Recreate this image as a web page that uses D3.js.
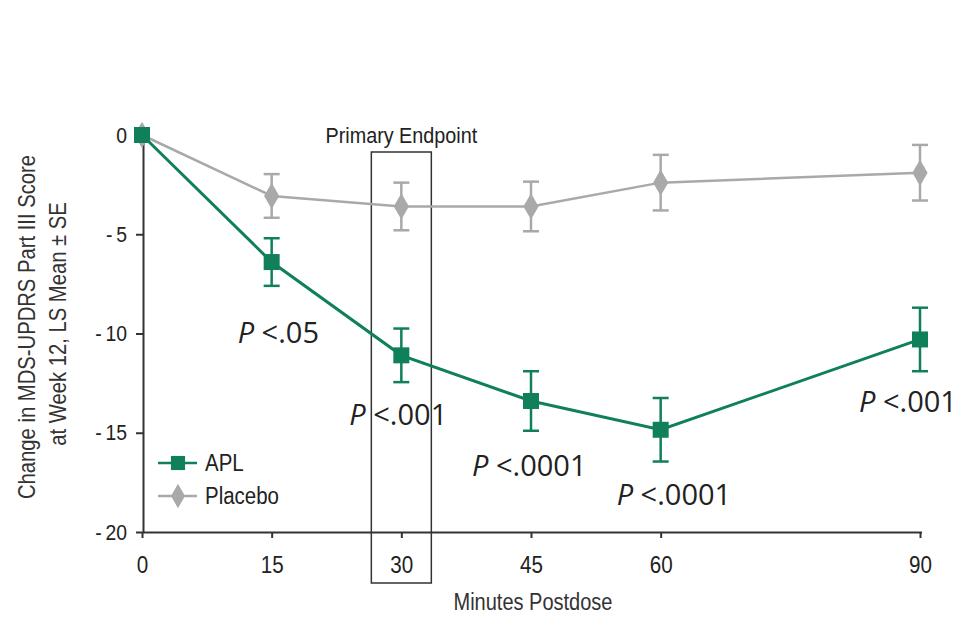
<!DOCTYPE html>
<html><head><meta charset="utf-8">
<script src="https://cdn.jsdelivr.net/npm/d3@7"></script>
<style>
body{margin:0;background:#fff;}
text{font-family:"Liberation Sans",Arial,sans-serif;}
.pv{font-family:"Open Sans","Liberation Sans",sans-serif;}
</style></head>
<body><svg id="c" width="956" height="617"></svg>
<script>
const minutes = [0, 15, 30, 45, 60, 90];
const aplMean = [0, -6.4, -11.1, -13.4, -14.85, -10.3];
const aplSE   = [0, 1.2, 1.35, 1.5, 1.6, 1.6];
const plaMean = [0, -3.07, -3.6, -3.6, -2.4, -1.9];
const plaSE   = [0, 1.1, 1.2, 1.25, 1.4, 1.4];
const xTicks = [0, 15, 30, 45, 60, 90];
const yTicks = [0, -5, -10, -15, -20];
const pLabels = [
  {m:15, v:-10.5, t:".05", dx:-34},
  {m:30, v:-14.6, t:".001", dx:-52},
  {m:45, v:-17.2, t:".0001", dx:-59},
  {m:60, v:-18.65, t:".0001", dx:-44},
  {m:90, v:-13.95, t:".001", dx:-61}
];

const svg = d3.select("#c");
const x = d3.scaleLinear().domain([0, 90]).range([142, 920]);
const y = d3.scaleLinear().domain([0, -20]).range([135, 532]);
const green = "#10805a", gray = "#a9a9a9";

function ctext(px, py, sx, size, str, anchor, fill, rot) {
  return svg.append("text")
    .attr("transform", `translate(${px},${py})${rot ? " rotate(" + rot + ")" : ""} scale(${sx},1)`)
    .attr("text-anchor", anchor).attr("font-size", size).attr("fill", fill || "#222").text(str);
}

// axes
const yAxis = svg.append("g").attr("transform", "translate(143,0)")
  .call(d3.axisLeft(y).tickValues(yTicks).tickSize(7).tickFormat(d => d === 0 ? "0" : "-\u2009" + Math.abs(d)));
const xAxis = svg.append("g").attr("transform", "translate(0,532)")
  .call(d3.axisBottom(x).tickValues(xTicks).tickSize(6));
[yAxis, xAxis].forEach(g => {
  g.select(".domain").attr("stroke", "#333").attr("stroke-width", 2);
  g.selectAll(".tick line").attr("stroke", "#333").attr("stroke-width", 2);
  g.selectAll("text").attr("font-family", "Liberation Sans, Arial, sans-serif").attr("fill", "#222");
});
xAxis.select(".domain").attr("d", "M143,0.5H922");
yAxis.select(".domain").attr("d", "M0.5,135V533");
xAxis.selectAll(".tick text").attr("font-size", 24).attr("y", 0).attr("dy", 0)
  .attr("transform", "translate(0,41) scale(0.86,1)");
yAxis.selectAll(".tick text").attr("font-size", 22).attr("x", 0)
  .attr("transform", "translate(-16,0) scale(0.88,1)");

// primary endpoint box
svg.append("rect").attr("x", x(30) - 30).attr("y", 152).attr("width", 60).attr("height", 431)
  .attr("fill", "none").attr("stroke", "#333").attr("stroke-width", 1.5);
ctext(x(30), 143, 0.9, 22, "Primary Endpoint", "middle");

// series
function series(mean, se, color, lw, shape) {
  const pts = minutes.map((m, i) => ({m, v: mean[i], s: se[i]}));
  svg.append("path").datum(pts).attr("fill", "none").attr("stroke", color).attr("stroke-width", lw)
    .attr("d", d3.line().x(d => x(d.m)).y(d => y(d.v)));
  const eb = svg.append("g").attr("stroke", color).attr("stroke-width", 2.5);
  pts.filter(d => d.s > 0).forEach(d => {
    eb.append("line").attr("x1", x(d.m)).attr("x2", x(d.m)).attr("y1", y(d.v + d.s)).attr("y2", y(d.v - d.s));
    eb.append("line").attr("x1", x(d.m) - 8).attr("x2", x(d.m) + 8).attr("y1", y(d.v + d.s)).attr("y2", y(d.v + d.s));
    eb.append("line").attr("x1", x(d.m) - 8).attr("x2", x(d.m) + 8).attr("y1", y(d.v - d.s)).attr("y2", y(d.v - d.s));
  });
  svg.append("g").selectAll("path").data(pts).join("path")
    .attr("transform", d => `translate(${x(d.m)},${y(d.v)})`)
    .attr("d", d3.symbol().type(shape === "square" ? d3.symbolSquare : d3.symbolDiamond).size(shape === "square" ? 256 : 200))
    .attr("fill", color);
}
series(plaMean, plaSE, gray, 2.5, "diamond");
series(aplMean, aplSE, green, 3, "square");

// p labels
const pl = svg.append("g").attr("class", "pv").attr("font-size", 29).attr("fill", "#222");
pLabels.forEach(p => {
  const t = pl.append("text").attr("class", "pv").attr("x", x(p.m) + p.dx).attr("y", y(p.v));
  t.append("tspan").attr("font-style", "italic").text("P");
  t.append("tspan").text(" <" + p.t);
});

// legend
const legend = [{n: "APL", c: green, s: "square"}, {n: "Placebo", c: gray, s: "diamond"}];
legend.forEach((l, i) => {
  const yy = 463 + i * 33;
  svg.append("line").attr("x1", 158).attr("x2", 197).attr("y1", yy).attr("y2", yy).attr("stroke", l.c).attr("stroke-width", 2.5);
  svg.append("path").attr("transform", `translate(178,${yy})`)
    .attr("d", d3.symbol().type(l.s === "square" ? d3.symbolSquare : d3.symbolDiamond).size(l.s === "square" ? 200 : 170)).attr("fill", l.c);
  ctext(205, yy + 8, 0.89, 23, l.n, "start");
});

// axis titles
ctext(533, 610, 0.87, 23, "Minutes Postdose", "middle", "#333");
ctext(35, 327, 0.88, 23, "Change in MDS-UPDRS Part III Score", "middle", "#333", -90);
ctext(66, 324, 0.88, 23, "at Week 12, LS Mean ± SE", "middle", "#333", -90);
</script></body></html>
